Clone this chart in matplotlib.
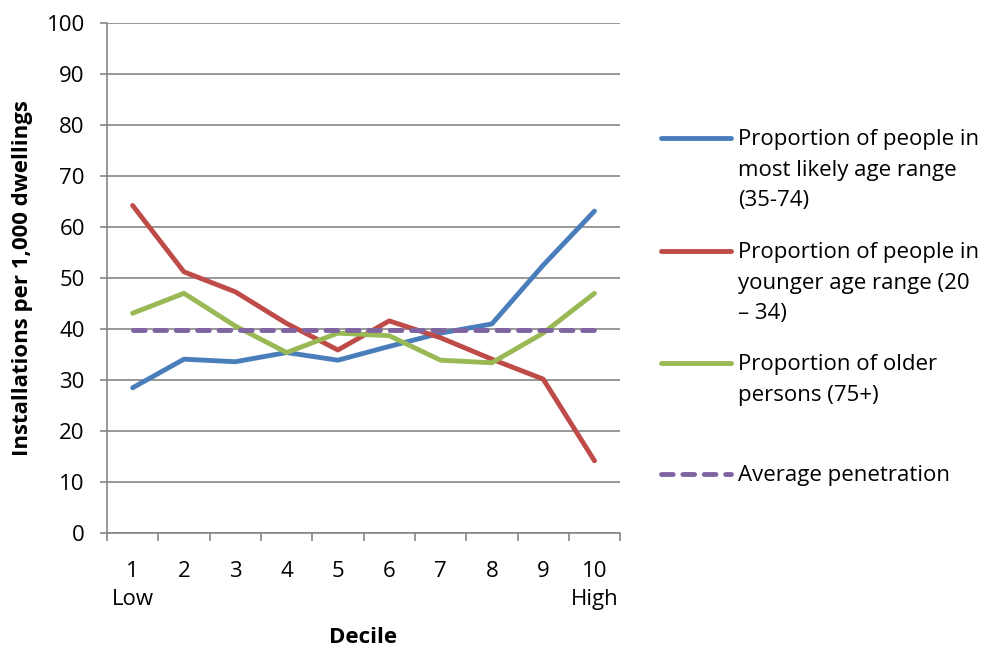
import numpy as np
import matplotlib.pyplot as plt
from matplotlib.lines import Line2D

plt.rcParams['font.family'] = ['Open Sans', 'DejaVu Sans']

# deciles and series
deciles = np.arange(1, 11)
xlabels = ['1\nLow', '2', '3', '4', '5', '6', '7', '8', '9', '10\nHigh']
likely = [28.5, 34.1, 33.6, 35.4, 33.9, 36.6, 39.2, 41.0, 52.5, 63.1]
younger = [64.2, 51.2, 47.3, 41.1, 35.9, 41.6, 38.3, 34.1, 30.2, 14.2]
older = [43.1, 47.0, 40.6, 35.4, 39.2, 38.7, 33.9, 33.4, 39.2, 47.0]
average = [39.8] * 10

names = ['Proportion of people in\nmost likely age range\n(35-74)',
         'Proportion of people in\nyounger age range (20\n\u2013 34)',
         'Proportion of older\npersons (75+)',
         'Average penetration']
colors = ['#4A7EBB', '#BE4B48', '#98B954', '#8064A2']
dash = (0, (2.4, 2.0))

fig = plt.figure(figsize=(9.97, 6.48), dpi=100)
ax = fig.add_axes([0.1073, 0.177, 0.5147, 0.788])

ax.plot(deciles, likely, color=colors[0], lw=3.5, solid_capstyle='round', zorder=3)
ax.plot(deciles, younger, color=colors[1], lw=3.5, solid_capstyle='round', zorder=3)
ax.plot(deciles, older, color=colors[2], lw=3.5, solid_capstyle='round', zorder=3)
ax.plot(deciles, average, color=colors[3], lw=3.5, ls=dash,
        dash_capstyle='round', zorder=4)

ax.set_xlim(0.5, 10.5)
ax.set_ylim(0, 100)
ax.set_yticks(range(0, 101, 10))
ax.tick_params(axis='y', labelsize=16, length=5, width=1.2, color='#868686', pad=11)
ax.yaxis.grid(True, color='#868686', lw=1.2)
ax.set_axisbelow(True)

# ticks at category boundaries, labels at centres
ax.set_xticks(np.arange(0.5, 10.6, 1))
ax.set_xticklabels([])
ax.tick_params(axis='x', length=6, width=1.2, color='#868686')
ax.set_xticks(deciles, minor=True)
ax.set_xticklabels(xlabels, minor=True, fontsize=16, linespacing=1.44, va='top')
ax.tick_params(axis='x', which='minor', length=0, pad=20)

for s in ['top', 'right']:
    ax.spines[s].set_visible(False)
for s in ['left', 'bottom']:
    ax.spines[s].set_color('#868686')
    ax.spines[s].set_linewidth(1.2)

ax.set_ylabel('Installations per 1,000 dwellings', fontsize=16, fontweight='bold', labelpad=10)
ax.set_xlabel('Decile', fontsize=16, fontweight='bold', labelpad=12)

# legend drawn by hand to match the wrapped layout
legend_y = [138, 251, 363, 474]
for name, c, y in zip(names, colors, legend_y):
    fy = 1 - y / 648
    ls = dash if name.startswith('Average') else '-'
    fig.add_artist(Line2D([661 / 997, 731 / 997], [fy, fy], color=c, lw=3.5, ls=ls,
                          solid_capstyle='round', dash_capstyle='round'))
    fig.text(738 / 997, fy + 9 / 648, name, fontsize=16, va='top', ha='left',
             linespacing=1.6)

fig.savefig('out.png', dpi=100)
